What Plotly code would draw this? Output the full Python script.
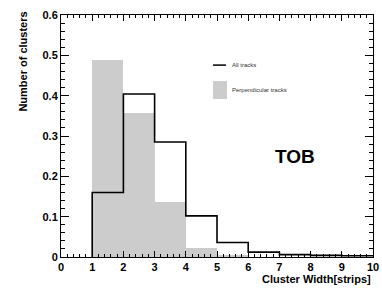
import plotly.graph_objects as go

# Bin edges (cluster width in strips) and normalised contents
bin_left = [1, 2, 3, 4, 5, 6, 7, 8, 9]
all_tracks = [0.160, 0.404, 0.285, 0.102, 0.036, 0.012, 0.006, 0.004, 0.003]
perp_tracks = [0.488, 0.357, 0.136, 0.023, 0.003, 0.0, 0.0, 0.0, 0.0]

bin_width = 1
label_text = "TOB"
legend_labels = ["All tracks", "Perpendicular tracks"]

fig = go.Figure()

# Perpendicular tracks: filled grey histogram
fig.add_trace(go.Bar(
    x=[b + bin_width / 2 for b in bin_left],
    y=perp_tracks,
    width=[bin_width] * len(bin_left),
    marker=dict(color="#cccccc", line=dict(width=0)),
    showlegend=False,
    hoverinfo="skip",
))

# All tracks: step outline histogram
step_x = [bin_left[0]] + bin_left + [bin_left[-1] + bin_width]
step_y = [0] + all_tracks + [all_tracks[-1]]
fig.add_trace(go.Scatter(
    x=step_x,
    y=step_y,
    mode="lines",
    line=dict(shape="hv", color="black", width=1.6),
    showlegend=False,
    hoverinfo="skip",
))

tick_font = dict(family="Liberation Sans", size=11, color="black", weight="bold")

fig.update_xaxes(
    range=[0, 10], dtick=1, tick0=0,
    ticks="inside", ticklen=6, tickwidth=1, tickcolor="black",
    minor=dict(dtick=0.2, ticks="inside", ticklen=3, tickcolor="black", showgrid=False),
    showline=True, linecolor="black", linewidth=1, mirror="allticks",
    showgrid=False, zeroline=False, tickfont=tick_font,
    layer="above traces", automargin=False, ticklabeloverflow="allow",
)
fig.update_yaxes(
    range=[0, 0.6], dtick=0.1, tick0=0,
    ticks="inside", ticklen=8, tickwidth=1, tickcolor="black",
    minor=dict(dtick=0.02, ticks="inside", ticklen=4, tickcolor="black", showgrid=False),
    showline=True, linecolor="black", linewidth=1, mirror="allticks",
    showgrid=False, zeroline=False, tickfont=tick_font,
    layer="above traces", automargin=False, ticklabeloverflow="allow",
)

annotations = [
    dict(text="Cluster Width[strips]", xref="paper", yref="paper", x=1.0, y=-0.09,
         xanchor="right", yanchor="middle", showarrow=False,
         font=dict(family="Liberation Sans", size=11, color="black", weight="bold")),
    dict(text="Number of clusters", xref="paper", yref="paper", x=-0.122, y=1.022,
         xanchor="center", yanchor="top", textangle=-90, showarrow=False,
         font=dict(family="Liberation Sans", size=11, color="black", weight="bold")),
    dict(text=label_text, xref="x", yref="y", x=7.5, y=0.248,
         xanchor="center", yanchor="middle", showarrow=False,
         font=dict(family="Liberation Sans", size=19, color="black", weight="bold")),
    dict(text=legend_labels[0], xref="paper", yref="paper", x=0.541, y=0.793,
         xanchor="left", yanchor="middle", showarrow=False,
         font=dict(family="Liberation Sans", size=6, color="#333333")),
    dict(text=legend_labels[1], xref="paper", yref="paper", x=0.541, y=0.69,
         xanchor="left", yanchor="middle", showarrow=False,
         font=dict(family="Liberation Sans", size=6, color="#333333")),
]

shapes = [
    dict(type="line", xref="paper", yref="paper", x0=0.487, x1=0.529, y0=0.793, y1=0.793,
         line=dict(color="black", width=1.5)),
    dict(type="rect", xref="paper", yref="paper", x0=0.487, x1=0.532, y0=0.653, y1=0.727,
         fillcolor="#cccccc", line=dict(width=0)),
]

fig.update_layout(
    width=382, height=295,
    margin=dict(l=61, r=9, t=15, b=38, autoexpand=False),
    paper_bgcolor="white", plot_bgcolor="white",
    barmode="overlay", bargap=0,
    annotations=annotations, shapes=shapes,
    showlegend=False,
)

# Remove the page's default 8px body margin so the figure fills the window.
fig.write_html(
    "out.html",
    config={"displayModeBar": False},
    post_script="document.body.style.margin='0';",
)
